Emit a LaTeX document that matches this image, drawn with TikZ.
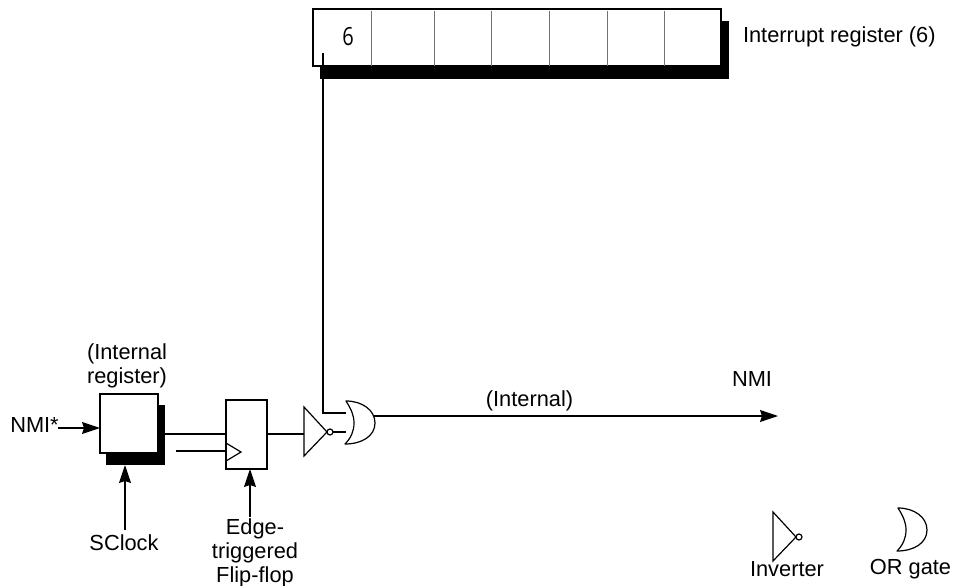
\documentclass[tikz,border=0pt]{standalone}
\usepackage{fontspec}
\setmainfont{Liberation Sans}
\newfontfamily\digitfont{Open Sans}
\usetikzlibrary{arrows.meta}
\tikzset{
  every node/.style={inner sep=0pt,outer sep=0pt},
  lab/.style={font=\fontsize{21.8}{24}\selectfont,align=center,anchor=center},
  wire/.style={draw=black,line width=1.2pt},
  arrowwire/.style={wire,-{Stealth[length=18pt,width=12pt,inset=2pt]}},
  boxw/.style={draw=black,line width=1.2pt,fill=white},
  shade box/.style={fill=black},
  divider/.style={draw=black!55,line width=0.8pt}
}
\newcommand{\invgate}[3]{% name, left x, top y
  \draw[line width=1.2pt,line join=miter] (#2,#3) -- (#2,#3+49) -- (#2+23,#3+25) -- cycle;
  \draw[line width=1.2pt,fill=white] (#2+26,#3+25) circle (3);
  \coordinate (#1-in) at (#2,#3+27);
  \coordinate (#1-out) at (#2+29,#3+25);
}
\newcommand{\orgate}[3]{% name, left x, top y
  \draw[line width=1.2pt,line join=round] (#2,#3) .. controls (#2+5,#3+8) and (#2+8,#3+14) .. (#2+8,#3+22)
     .. controls (#2+8,#3+30) and (#2+5,#3+37) .. (#2-1,#3+43)
     .. controls (#2+16,#3+43) and (#2+29,#3+35) .. (#2+29,#3+22)
     .. controls (#2+29,#3+9) and (#2+16,#3+0) .. (#2,#3) -- cycle;
  \coordinate (#1-a) at (#2,#3+12);
  \coordinate (#1-b) at (#2,#3+31);
  \coordinate (#1-out) at (#2+28,#3+15);
}
\begin{document}
\begin{tikzpicture}[x=1pt,y=-1pt]
\useasboundingbox (0,0) rectangle (956,586);
% interrupt register
\fill[shade box] (320,21) rectangle (729,79);
\node[boxw,anchor=north west,minimum width=408pt,minimum height=57pt] (ireg) at (313,9) {};
\foreach \x in {371,434,491,549,607,664} \draw[divider] (\x,11) -- (\x,66);
\node[lab,font=\digitfont\fontsize{25}{26}\selectfont] (six) at (348,37) {\scalebox{.8}[1]{6}};
\node[lab,anchor=west] (iregl) at (743,37) {Interrupt register (6)};
% internal register
\fill[shade box] (106,405) rectangle (165,465);
\node[boxw,anchor=north west,minimum width=58pt,minimum height=59pt] (r) at (100,394) {};
\node[lab] (rl) at (127,366) {(Internal\\register)};
\node[lab] (nmis) at (34.5,425) {NMI*};
\node[lab] (sck) at (124,543) {SClock};
\coordinate (nmisend) at (58,428);
\coordinate (rin) at (100,428);
\coordinate (rclk) at (125,465);
\coordinate (sckend) at (125,530);
\coordinate (rout) at (165,434);
% flip-flop
\node[boxw,anchor=north west,minimum width=41pt,minimum height=69pt] (ff) at (226,400) {};
\draw[line width=1.2pt] (226,443) -- (241,452) -- (226,461);
\coordinate (ffd) at (226,434);
\coordinate (ffq) at (267,434);
\coordinate (ffck) at (226,451);
\coordinate (ffcks) at (176,451);
\coordinate (ffb) at (250,469);
\coordinate (ffbe) at (250,517);
\node[lab] (ffl) at (255,553) {Edge-\\triggered\\Flip-flop};
% gates
\invgate{inv}{304}{407}
\orgate{or}{346}{401}
\coordinate (tap) at (323,53);
\coordinate (bend) at (323,413);
\coordinate (outend) at (778,416);
\node[lab] (intl) at (529.5,401) {(Internal)};
\node[lab] (nmil) at (752,379) {NMI};
% wires
\draw[wire] (tap) -- (bend) -- (or-a);
\draw[wire] (inv-out) -- (or-b);
\draw[wire] (ffq) -- (inv-in);
\draw[wire] (rout) -- (ffd);
\draw[wire] (ffcks) -- (ffck);
\draw[arrowwire] (nmisend) -- (rin);
\draw[arrowwire] (sckend) -- (rclk);
\draw[arrowwire] (ffbe) -- (ffb);
\draw[arrowwire] (or-out) -- (outend);
% legend
\invgate{linv}{773}{512}
\orgate{lor}{898}{508}
\node[lab] (linvl) at (787,569) {Inverter};
\node[lab] (lorl) at (910.5,569) {OR gate};
\end{tikzpicture}
\end{document}
